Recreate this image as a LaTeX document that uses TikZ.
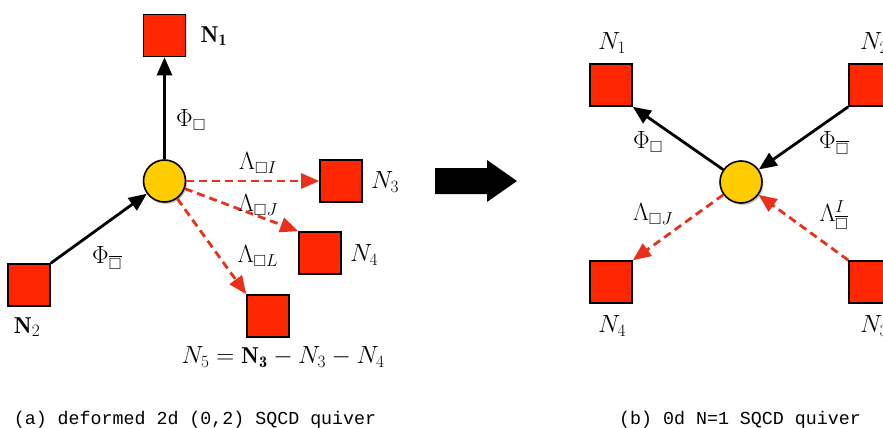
\documentclass[tikz,border=0pt]{standalone}
\usepackage{amsmath,amssymb}
\usepackage{fontspec}
\newfontfamily\capfont{Liberation Mono}
\usetikzlibrary{arrows.meta,shadows}
\definecolor{sqred}{HTML}{FF2600}
\definecolor{dashred}{HTML}{E8301C}
\definecolor{gyellow}{HTML}{FFCC00}
\begin{document}
\begin{tikzpicture}[x=1pt,y=-1pt,
  sq/.style={draw=black,line width=1.6pt,fill=sqred,minimum size=42pt,inner sep=0pt,
    drop shadow={shadow xshift=1pt,shadow yshift=-1pt,opacity=0.25}},
  gauge/.style={circle,draw=black,line width=1.6pt,fill=gyellow,minimum size=42pt,inner sep=0pt,
    drop shadow={shadow xshift=1.5pt,shadow yshift=-2pt,opacity=0.45}},
  lbl/.style={font=\fontsize{23}{27}\selectfont,inner sep=0pt},
  solidarr/.style={draw=black,line width=2.8pt,-{Triangle[length=18pt,width=15pt]}},
  dasharr/.style={draw=dashred,line width=2.8pt,dash pattern=on 8pt off 5pt,
    -{Triangle[length=18pt,width=15pt]}},
  captext/.style={font=\capfont\fontsize{18.3}{20}\selectfont,inner sep=0pt,anchor=base}
]
\useasboundingbox (0,0) rectangle (883,428);
\clip (0,0) rectangle (883,428);

% ---------- left panel ----------
\node[sq] (l1) at (164.5,35.5) {};
\node[sq] (l2) at (29,285) {};
\node[sq] (l3) at (341,181) {};
\node[sq] (l4) at (320,253) {};
\node[sq] (l5) at (268,316) {};
\node[gauge] (lc) at (164.5,181) {};

\draw[solidarr] (lc) -- (l1);
\draw[solidarr] (l2.north east) -- (lc);
\draw[dasharr] (lc) -- (l3);
\draw[dasharr] (lc) -- (l4.north west);
\draw[dasharr] (lc) -- (l5.north west);

\node[lbl] (tl1) at (214,36) {$\mathbf{N_1}$};
\node[lbl] (tl2) at (27,327) {$\mathbf{N}_2$};
\node[lbl] (tl3) at (385,182) {$N_3$};
\node[lbl] (tl4) at (364,255) {$N_4$};
\node[lbl] (tl5) at (283,357) {$N_5=\mathbf{N_3}-N_3-N_4$};
\node[lbl] (pl1) at (191,120) {$\Phi_{\square}$};
\node[lbl] (pl2) at (107,258) {$\Phi_{\overline{\square}}$};
\node[lbl] (ll1) at (258,163) {$\Lambda_{\square I}$};
\node[lbl] (ll2) at (258,205) {$\Lambda_{\square J}$};
\node[lbl] (ll3) at (258,256) {$\Lambda_{\square L}$};

\node[captext] (capa) at (195,424) {(a) deformed 2d (0,2) SQCD quiver};

% ---------- big arrow ----------
\fill[black] (435,168) -- (487,168) -- (487,160) -- (517,181) -- (487,202) -- (487,194) -- (435,194) -- cycle;

% ---------- right panel ----------
\node[sq] (r1) at (611,85) {};
\node[sq] (r2) at (870,85) {};
\node[sq] (r3) at (870,282) {};
\node[sq] (r4) at (611,282) {};
\node[gauge] (rc) at (741,182) {};

\draw[solidarr] (rc) -- (r1.south east);
\draw[solidarr] (r2.south west) -- (rc);
\draw[dasharr] (rc) -- (r4.north east);
\draw[dasharr] (r3.north west) -- (rc);

\node[lbl] (tr1) at (612,43) {$N_1$};
\node[lbl] (tr2) at (874,43) {$N_2$};
\node[lbl] (tr3) at (874,326) {$N_3$};
\node[lbl] (tr4) at (612,326) {$N_4$};
\node[lbl] (pr1) at (648,142) {$\Phi_{\square}$};
\node[lbl] (pr2) at (834,143) {$\Phi_{\overline{\square}}$};
\node[lbl] (lr1) at (653,214) {$\Lambda_{\square J}$};
\node[lbl] (lr2) at (834,215) {$\Lambda^{I}_{\overline{\square}}$};

\node[captext] (capb) at (740,424) {(b) 0d N=1 SQCD quiver};
\end{tikzpicture}
\end{document}
